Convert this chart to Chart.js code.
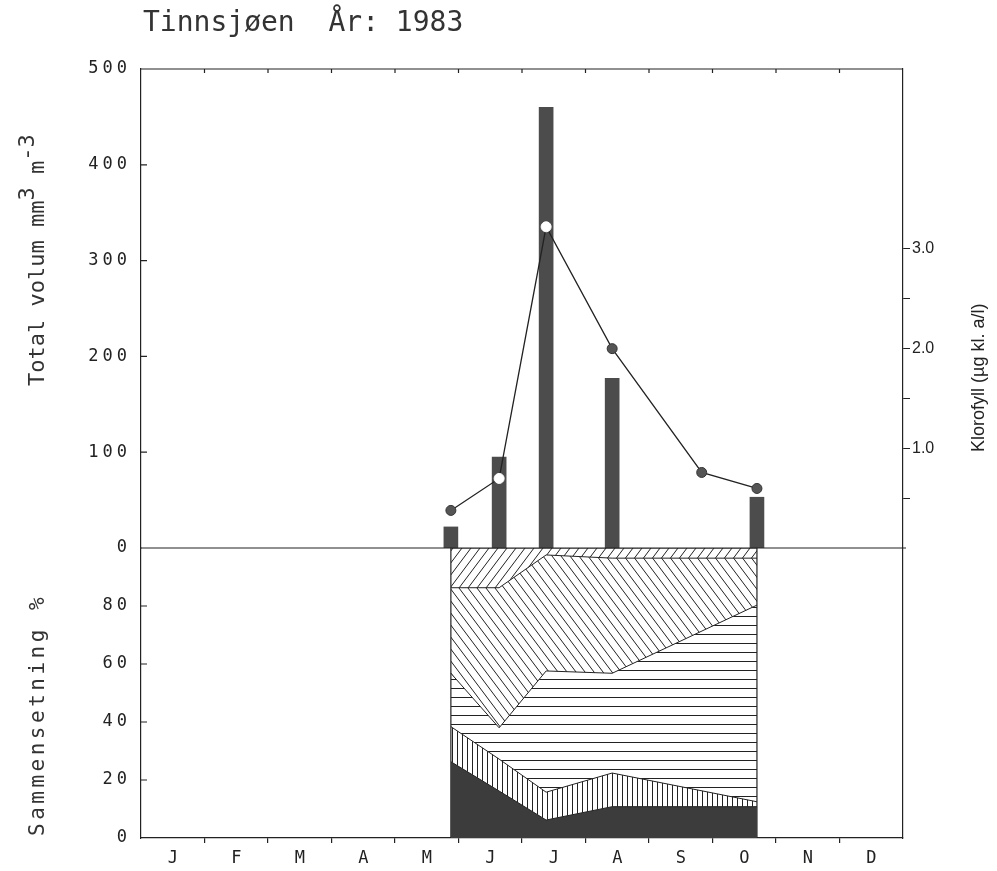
<!DOCTYPE html>
<html>
<head>
<meta charset="utf-8">
<script src="https://cdn.jsdelivr.net/npm/chart.js@4"></script>
<style>
  body { margin: 0; background: #fff; }
  #wrap { position: relative; width: 997px; height: 871px; }
  .lbl { position: absolute; white-space: pre; color: #333; line-height: 1; }
  .mono { font-family: 'DejaVu Sans Mono', monospace; }
  .rot { transform-origin: left top; transform: rotate(-90deg); }
</style>
</head>
<body>
<div id="wrap">
  <canvas id="chart"></canvas>
  <div class="lbl mono" style="left:143px; top:8px; font-size:28px;">Tinnsjøen  År: 1983</div>
  <div class="lbl mono rot" style="left:26px; top:386px; font-size:22px;">Total volum mm<span style="position:relative; top:-10px">3</span> m<span style="position:relative; top:-10px">-3</span></div>
  <div class="lbl mono rot" style="left:27px; top:836px; font-size:21px; letter-spacing:3.5px;">Sammensetning %</div>
  <div class="lbl rot" style="left:969px; top:452px; font-size:18px; font-family:'Liberation Sans', Arial, sans-serif; color:#222;">Klorofyll (µg kl. a/l)</div>
</div>
<script>
// month axis runs 0..12 (one unit per month)
const months = ['J', 'F', 'M', 'A', 'M', 'J', 'J', 'A', 'S', 'O', 'N', 'D'];

// sampling dates (in months) and total volume mm3/m3
const sampleDates = [4.88, 5.64, 6.38, 7.42, 9.70];
const totalVolume = [22, 95, 460, 177, 53];

// chlorophyll (µg kl. a/l)
const chlDates = [4.88, 5.64, 6.38, 7.42, 8.83, 9.70];
const chlorophyll = [0.38, 0.70, 3.22, 2.00, 0.76, 0.60];
const chlOpen = [false, true, true, false, false, false];

// composition %, bottom layer first
const darkPct = [26.3, 16.2, 6.2, 10.8, 10.8];
const vertPct = [12.1, 11.0, 9.6, 11.6, 1.7];
const horizPct = [18.4, 10.8, 41.8, 34.4, 67.8];
const backPct = [29.5, 48.3, 40.0, 39.7, 16.2];
const fwdPct = [13.7, 13.7, 2.4, 3.5, 3.5];

const volTicks = [0, 100, 200, 300, 400, 500];
const pctTicks = [0, 20, 40, 60, 80];
const chlTicks = [0.5, 1.0, 1.5, 2.0, 2.5, 3.0];

const ink = '#222';

function hatch(kind) {
    const c = document.createElement('canvas');
    const size = { h: [8, 9], v: [5, 8], back: [9, 12], fwd: [9, 12] }[kind];
    const w = size[0], h = size[1];
    c.width = w; c.height = h;
    const g = c.getContext('2d');
    g.strokeStyle = ink;
    g.lineWidth = 1;
    g.beginPath();
    if (kind === 'h') {
        g.moveTo(0, 4.5); g.lineTo(w, 4.5);
    } else if (kind === 'v') {
        g.moveTo(2.5, 0); g.lineTo(2.5, h);
    } else {
        for (const s of [-w, 0, w]) {
            if (kind === 'back') { g.moveTo(s, 0); g.lineTo(s + w, h); }
            else { g.moveTo(s, h); g.lineTo(s + w, 0); }
        }
    }
    g.stroke();
    return g.createPattern(c, 'repeat');
}

const pts = (xs, ys) => xs.map((x, i) => ({ x: x, y: ys[i] }));

function area(label, values, fill, bg) {
    return {
        type: 'line', label: label, data: pts(sampleDates, values),
        yAxisID: 'yPct', order: 2, fill: fill, backgroundColor: bg,
        borderColor: ink, borderWidth: 1, pointRadius: 0, tension: 0
    };
}

// vertical edges of the composition block, first and last sample
const first = sampleDates[0], last = sampleDates[sampleDates.length - 1];
const edges = [
    { x: first, y: 0 }, { x: first, y: 100 }, { x: (first + last) / 2, y: null },
    { x: last, y: 100 }, { x: last, y: 0 }
];

const framePlugin = {
    id: 'frame',
    beforeDraw(chart) { chart.ctx.letterSpacing = '4px'; },
    beforeDatasetsDraw(chart) { chart.ctx.letterSpacing = '0px'; },
    afterDraw(chart) {
        const { ctx, chartArea: a, scales } = chart;
        ctx.save();
        ctx.strokeStyle = ink;
        ctx.lineWidth = 1.2;
        ctx.beginPath();
        ctx.moveTo(a.left, a.top); ctx.lineTo(a.right, a.top);
        const y0 = scales.yVol.getPixelForValue(0);
        ctx.moveTo(a.left, y0); ctx.lineTo(a.right + 3, y0);
        for (let i = 1; i < 12; i++) {
            const x = scales.x.getPixelForValue(i);
            ctx.moveTo(x, a.top); ctx.lineTo(x, a.top + 4);
        }
        volTicks.slice(1, -1).forEach(v => {
            const y = scales.yVol.getPixelForValue(v);
            ctx.moveTo(a.left, y); ctx.lineTo(a.left + 6, y);
        });
        pctTicks.slice(1).forEach(v => {
            const y = scales.yPct.getPixelForValue(v);
            ctx.moveTo(a.left, y); ctx.lineTo(a.left + 6, y);
        });
        ctx.stroke();
        ctx.restore();
    }
};

new Chart(document.getElementById('chart'), {
    type: 'line',
    data: {
        datasets: [
            area('Mørk', darkPct, 'origin', '#3c3c3c'),
            area('Loddrett', vertPct, '-1', hatch('v')),
            area('Vannrett', horizPct, '-1', hatch('h')),
            area('Skrå \\', backPct, '-1', hatch('back')),
            area('Skrå /', fwdPct, '-1', hatch('fwd')),
            {
                type: 'line', label: 'kant', data: edges, stack: 'edges', spanGaps: false,
                yAxisID: 'yPct', order: 2, fill: false, borderColor: ink, borderWidth: 1.2, pointRadius: 0
            },
            {
                type: 'bar', label: 'Total volum', data: pts(sampleDates, totalVolume),
                yAxisID: 'yVol', order: 1, backgroundColor: '#4c4c4c', barThickness: 14
            },
            {
                type: 'line', label: 'Klorofyll', data: pts(chlDates, chlorophyll),
                yAxisID: 'yChl', order: 0, borderColor: ink, borderWidth: 1.3, fill: false, tension: 0,
                pointRadius: 5, pointBorderWidth: 1,
                pointBackgroundColor: chlOpen.map(o => o ? '#fff' : '#555'),
                pointBorderColor: chlOpen.map(o => o ? '#fff' : '#333')
            }
        ]
    },
    options: {
        animation: false,
        responsive: true,
        maintainAspectRatio: false,
        layout: { padding: { top: 69, left: 0, right: 0, bottom: 0 } },
        plugins: { legend: { display: false }, tooltip: { enabled: false } },
        scales: {
            x: {
                type: 'linear', min: 0, max: 12, position: 'bottom', offset: false,
                afterBuildTicks: s => { s.ticks = []; for (let i = 0; i <= 24; i++) s.ticks.push({ value: i / 2 }); },
                afterFit: s => { s.height = 33; },
                ticks: {
                    autoSkip: false, maxRotation: 0, padding: 5, z: 1, color: ink,
                    font: { family: 'DejaVu Sans Mono', size: 17 },
                    callback: v => (v % 1 === 0.5) ? months[Math.floor(v)] : ''
                },
                grid: {
                    offset: false, drawOnChartArea: false, tickLength: 5, lineWidth: 1.2,
                    color: c => (c.tick && c.tick.value % 1 === 0 && c.tick.value > 0 && c.tick.value < 12) ? ink : 'rgba(0,0,0,0)'
                },
                border: { color: ink, width: 1.2 }
            },
            yVol: {
                type: 'linear', position: 'left', stack: 'left', stackWeight: 479, weight: 2,
                min: 0, max: 500,
                afterBuildTicks: s => { s.ticks = volTicks.map(v => ({ value: v })); },
                afterFit: s => { s.width = 141; },
                ticks: { padding: 2, color: ink, font: { family: 'DejaVu Sans Mono', size: 17 } },
                grid: { display: false },
                border: { color: ink, width: 1.2 }
            },
            yPct: {
                type: 'linear', position: 'left', stack: 'left', stackWeight: 290, weight: 1,
                min: 0, max: 100, stacked: true,
                afterBuildTicks: s => { s.ticks = pctTicks.map(v => ({ value: v })); },
                afterFit: s => { s.width = 141; },
                ticks: { padding: 2, color: ink, font: { family: 'DejaVu Sans Mono', size: 17 } },
                grid: { display: false },
                border: { color: ink, width: 1.2 }
            },
            yChl: {
                type: 'linear', position: 'right', min: -2.9, max: 4.8,
                afterBuildTicks: s => { s.ticks = chlTicks.map(v => ({ value: v })); },
                afterFit: s => { s.width = 94; },
                ticks: {
                    padding: 2, z: 1, color: ink, font: { family: 'Liberation Sans', size: 16 },
                    callback: v => (v % 1 === 0) ? v.toFixed(1) : ''
                },
                grid: { drawOnChartArea: false, tickLength: 7, color: ink, lineWidth: 1 },
                border: { color: ink, width: 1.2 }
            }
        }
    },
    plugins: [framePlugin]
});
</script>
</body>
</html>
